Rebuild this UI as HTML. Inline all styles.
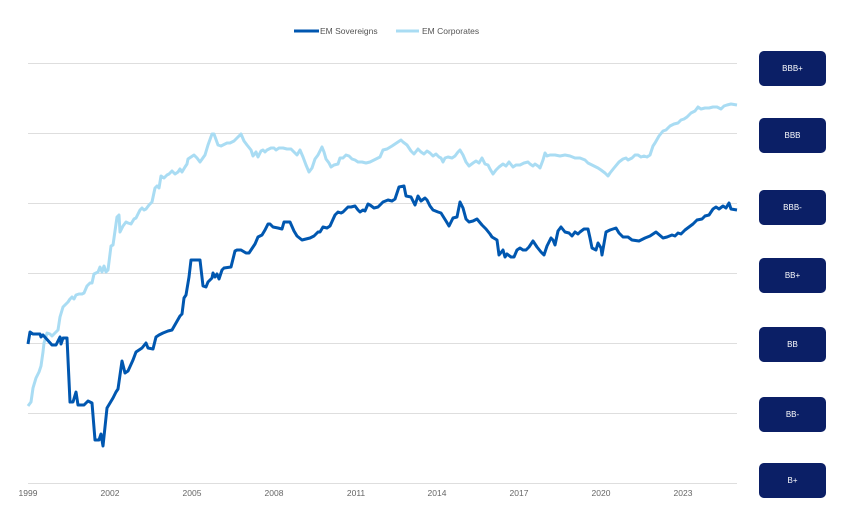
<!DOCTYPE html>
<html><head><style>
body{margin:0;background:#fff;width:851px;height:519px;overflow:hidden;font-family:"Liberation Sans",Arial,sans-serif}
.b{position:absolute;left:759px;width:67px;height:35px;background:#0b1f66;border-radius:5px;color:#fff;font-size:8px;display:flex;align-items:center;justify-content:center}
</style></head><body>
<svg width="851" height="519" style="position:absolute;left:0;top:0" font-family="Liberation Sans, Arial, sans-serif">
<g stroke="#dedede" stroke-width="1">
<line x1="28" x2="737" y1="63.5" y2="63.5"/><line x1="28" x2="737" y1="133.5" y2="133.5"/><line x1="28" x2="737" y1="203.5" y2="203.5"/><line x1="28" x2="737" y1="273.5" y2="273.5"/><line x1="28" x2="737" y1="343.5" y2="343.5"/><line x1="28" x2="737" y1="413.5" y2="413.5"/><line x1="28" x2="737" y1="483.5" y2="483.5"/>
</g>
<g font-size="8.5" fill="#666" text-anchor="middle">
<text x="28" y="496">1999</text><text x="110" y="496">2002</text><text x="192" y="496">2005</text><text x="274" y="496">2008</text><text x="356" y="496">2011</text><text x="437" y="496">2014</text><text x="519" y="496">2017</text><text x="601" y="496">2020</text><text x="683" y="496">2023</text>
</g>
<line x1="294" x2="319" y1="31" y2="31" stroke="#0057b0" stroke-width="3"/>
<text x="320" y="34" font-size="8.5" fill="#555">EM Sovereigns</text>
<line x1="396" x2="419" y1="31" y2="31" stroke="#a9dcf3" stroke-width="3"/>
<text x="422" y="34" font-size="8.5" fill="#555">EM Corporates</text>
<polyline fill="none" stroke="#a9dcf3" stroke-width="3" stroke-linejoin="round" points="28,406 31,402 33,388 36,378 39,372 41,366 43,352 44,343 47,333 50,334 52,336 56,332 58,330 60,317 63,307 68,302 70,299 72,297 74,299 76,295 79,294 82,294 84,293 87,286 90,283 92,283 94,274 98,272 100,267 102,272 104,266 106,272 108,270 111,246 113,245 117,217 119,215 120,232 123,226 126,222 128,223 131,224 134,219 136,218 140,210 142,208 144,210 146,209 149,205 152,202 155,188 157,186 159,188 161,176 164,178 167,175 169,174 172,171 175,174 178,172 180,169 182,172 185,167 187,164 188,159 191,157 194,155 197,158 200,162 205,155 208,145 212,134 214,134 218,145 221,146 227,143 230,143 234,141 238,137 241,134 244,141 247,145 251,150 253,156 256,152 258,157 261,151 263,150 265,152 267,150 271,148 274,148 276,150 279,148 283,148 287,149 291,149 294,152 297,155 300,150 303,157 306,165 309,172 312,168 315,159 318,155 320,151 322,147 324,152 326,159 329,163 331,167 334,165 338,164 340,158 343,158 346,155 349,156 352,159 355,160 358,162 362,162 366,163 370,162 376,159 380,157 383,150 387,149 392,146 398,142 401,140 403,142 407,145 411,151 414,154 418,149 421,152 424,154 427,151 430,153 433,156 436,154 439,157 441,158 443,162 445,158 448,157 452,158 455,156 458,152 460,150 463,155 466,162 469,166 473,163 476,161 479,163 482,158 485,164 488,165 490,169 493,174 496,170 499,167 503,164 506,166 509,162 513,167 516,165 520,165 524,163 528,162 530,164 533,166 535,164 538,166 540,168 543,160 545,153 547,156 550,155 555,155 560,156 565,155 570,156 575,158 580,158 585,160 588,163 592,165 598,168 601,170 605,173 608,176 610,173 614,168 619,162 623,159 626,158 628,160 632,158 635,155 638,155 641,157 644,156 647,157 650,155 653,146 655,143 659,136 663,131 666,130 670,126 674,124 678,123 681,120 684,119 687,117 691,113 695,111 698,107 701,109 705,108 709,108 713,107 717,107 721,109 724,106 727,105 731,104 737,105"/>
<polyline fill="none" stroke="#0057b0" stroke-width="3" stroke-linejoin="round" points="28,344 30,332 33,334 40,334 41,337 43,335 52,345 56,345 60,337 61,344 63,338 67,338 70,402 73,402 76,392 78,405 84,405 88,401 92,403 95,440 99,440 101,434 103,446 107,408 110,403 113,398 116,392 118,389 122,361 125,373 128,371 133,360 136,352 142,348 146,343 148,348 153,349 156,337 159,335 163,333 168,331 172,330 176,323 180,316 182,314 184,298 186,295 189,277 191,260 200,260 203,286 206,287 208,282 212,278 213,273 215,277 217,274 219,279 222,270 224,268 231,267 235,251 237,250 241,250 246,253 249,253 255,244 258,237 262,235 265,230 268,224 270,224 273,227 278,228 282,229 284,222 290,222 294,231 297,236 302,240 306,239 310,238 314,236 318,232 320,232 323,227 327,228 330,226 335,215 338,212 341,213 343,212 348,207 351,207 355,206 358,210 360,212 363,210 365,211 368,204 370,205 374,208 378,207 383,202 388,200 392,201 395,199 399,187 404,186 406,196 411,197 415,205 418,196 421,201 425,198 427,200 430,206 433,210 438,212 441,213 446,221 449,226 453,218 457,217 460,202 463,208 466,219 469,222 473,221 477,219 482,225 486,229 490,234 492,237 497,240 499,255 503,250 505,257 507,254 511,257 514,257 517,250 520,248 523,250 526,250 529,247 533,241 537,247 541,252 544,255 547,246 551,238 553,240 555,245 558,231 561,227 565,232 569,233 572,236 575,232 578,234 580,232 584,229 588,229 590,238 592,248 596,250 598,243 601,248 602,255 606,232 610,230 616,228 619,233 623,237 628,237 632,240 639,241 645,238 650,236 653,234 656,232 663,238 667,237 672,235 675,236 678,233 681,234 685,230 689,227 693,224 697,220 702,219 705,216 709,215 713,209 716,207 719,209 723,206 726,208 729,203 731,209 737,210"/>
</svg>
<div class="b" style="top:51px">BBB+</div>
<div class="b" style="top:118px">BBB</div>
<div class="b" style="top:190px">BBB-</div>
<div class="b" style="top:258px">BB+</div>
<div class="b" style="top:327px">BB</div>
<div class="b" style="top:397px">BB-</div>
<div class="b" style="top:463px">B+</div>
</body></html>
